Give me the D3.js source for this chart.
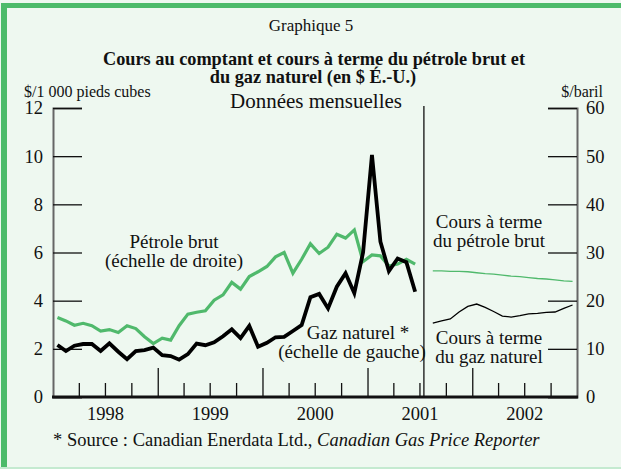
<!DOCTYPE html>
<html><head><meta charset="utf-8">
<script src="https://cdn.jsdelivr.net/npm/d3@7"></script>
<style>body{margin:0;background:#eef8f0;}</style>
</head><body><svg id="c" width="621" height="469"></svg>
<script>
// ---- data ----
const spotStart = [1998, 0];      // January 1998
const futuresStart = [2001, 7];   // August 2001
const gasSpot = [2.16,1.91,2.13,2.20,2.20,1.91,2.23,1.88,1.57,1.91,1.95,2.05,
                 1.74,1.70,1.55,1.78,2.22,2.15,2.27,2.52,2.81,2.45,2.95,2.09,
                 2.25,2.48,2.50,2.74,2.99,4.14,4.28,3.68,4.58,5.14,4.31,6.00,
                 10.05,6.45,5.23,5.75,5.60,4.37];
const oilSpot = [16.5,15.8,14.9,15.3,14.8,13.7,14.0,13.4,14.8,14.2,12.5,11.1,
                 12.2,11.8,14.8,17.2,17.6,17.9,20.1,21.2,23.8,22.4,25.0,26.0,
                 27.1,29.1,30.0,25.7,28.6,31.8,29.8,31.1,33.8,33.0,34.7,28.1,
                 29.5,29.3,27.2,27.6,28.6,27.6];
const gasFutures = [3.07,3.16,3.24,3.53,3.76,3.86,3.72,3.55,3.36,3.32,3.38,3.45,3.47,3.51,3.53,3.68,3.82];
const oilFutures = [26.2,26.2,26.1,26.1,26.0,25.8,25.6,25.5,25.3,25.1,25.0,24.8,24.6,24.5,24.3,24.1,24.0];
const leftTicks = [0,2,4,6,8,10,12];
const rightTicks = [0,10,20,30,40,50,60];
const yearLabels = ["1998","1999","2000","2001","2002"];

// ---- layout ----
const FONT = "'Liberation Serif', Tinos, 'Times New Roman', Times, 'DejaVu Serif', serif";
const svg = d3.select("#c");
const W = 621, H = 469;
const L = 53, R = 577, T = 108, B = 397;
const green = "#50b96c";

svg.append("rect").attr("width",W).attr("height",H).attr("fill","#eef8f0");
// frame
svg.append("rect").attr("x",1).attr("y",3).attr("width",6).attr("height",H-3).attr("fill","#4cbb6a");
svg.append("rect").attr("x",1).attr("y",3).attr("width",W-1).attr("height",5).attr("fill","#4cbb6a");
svg.append("rect").attr("x",0).attr("y",H-2).attr("width",W).attr("height",2).attr("fill","#c4ead0");

const x = d3.scaleTime().domain([new Date(1998,0,1), new Date(2003,0,1)]).range([L,R]);
const yL = d3.scaleLinear().domain([0,12]).range([B,T]);
const yR = d3.scaleLinear().domain([0,60]).range([B,T]);
const midMonth = (y,m,i) => { const a = new Date(y,m+i,1), b = new Date(y,m+i+1,1); return (x(a)+x(b))/2; };

// titles
const txt = (s, xx, yy, size, anchor, weight) => svg.append("text").attr("x",xx).attr("y",yy)
  .style("font-family",FONT)
  .attr("font-size",size).attr("text-anchor",anchor||"middle").attr("font-weight",weight||"normal").attr("fill","#111").text(s);
txt("Graphique 5", 311, 31, 17);
txt("Cours au comptant et cours à terme du pétrole brut et", 314, 65, 18.3, "middle", "bold");
txt("du gaz naturel (en $ É.-U.)", 313, 83, 18.3, "middle", "bold");
txt("Données mensuelles", 316, 108, 21);
txt("$/1 000 pieds cubes", 24, 97, 16, "start");
txt("$/baril", 603, 97, 16, "end");

// axes
const axL = svg.append("g").attr("transform",`translate(${L},0)`)
  .call(d3.axisLeft(yL).tickValues(leftTicks).tickSize(-29).tickPadding(10).tickFormat(d3.format("d")));
const axR = svg.append("g").attr("transform",`translate(${R},0)`)
  .call(d3.axisRight(yR).tickValues(rightTicks).tickSize(-29).tickPadding(9).tickFormat(d3.format("d")));
[axL, axR].forEach(g => {
  g.select(".domain").attr("stroke","#666").attr("stroke-width",2);
  g.selectAll(".tick line").attr("stroke","#111").attr("stroke-width",1.3);
  g.selectAll(".tick text").attr("font-size",18.5).attr("fill","#111").style("font-family",FONT);
});

const quarters = d3.timeMonth.range(new Date(1998,3,1), new Date(2003,0,1), 3).filter(d => d.getMonth() !== 0);
const years = d3.timeYear.range(new Date(1999,0,1), new Date(2003,0,1));
const axQ = svg.append("g").attr("transform",`translate(0,${B})`)
  .call(d3.axisBottom(x).tickValues(quarters).tickSize(-14).tickFormat(""));
const axY = svg.append("g").attr("transform",`translate(0,${B})`)
  .call(d3.axisBottom(x).tickValues(years).tickSize(-29).tickFormat(""));
[axQ, axY].forEach(g => { g.select(".domain").remove(); g.selectAll(".tick line").attr("stroke","#111").attr("stroke-width",1.3); });
const yearMid = yearLabels.map(s => new Date(+s,6,1));
const axLab = svg.append("g").attr("transform",`translate(0,${B})`)
  .call(d3.axisBottom(x).tickValues(yearMid).tickSize(0).tickPadding(10).tickFormat((d,i)=>yearLabels[i]));
axLab.select(".domain").remove();
axLab.selectAll(".tick text").attr("font-size",18.5).attr("fill","#111").style("font-family",FONT);
svg.append("line").attr("x1",L-1).attr("x2",R+1).attr("y1",B).attr("y2",B).attr("stroke","#111").attr("stroke-width",3);

// separator between spot and futures
const sep = (x(new Date(2001,6,1)) + x(new Date(2001,7,1)))/2;
svg.append("line").attr("x1",sep).attr("x2",sep).attr("y1",T-2).attr("y2",B).attr("stroke","#111").attr("stroke-width",1.3);

// lines
const drawLine = (vals, start, yS, color, w) => {
  const line = d3.line().x((d,i)=>midMonth(start[0],start[1],i)).y(d=>yS(d));
  svg.append("path").datum(vals).attr("d",line).attr("fill","none").attr("stroke",color)
    .attr("stroke-width",w).attr("stroke-linejoin","miter").attr("stroke-miterlimit",10);
};
drawLine(oilSpot, spotStart, yR, green, 3.2);
drawLine(gasSpot, spotStart, yL, "#000", 3.8);
drawLine(oilFutures, futuresStart, yR, green, 1.3);
drawLine(gasFutures, futuresStart, yL, "#000", 1.3);

// annotations
txt("Pétrole brut", 174, 248, 19);
txt("(échelle de droite)", 174, 267, 19);
txt("Gaz naturel *", 358, 339, 19);
txt("(échelle de gauche)", 352, 358, 19);
txt("Cours à terme", 489, 228, 19);
txt("du pétrole brut", 489, 247, 19);
txt("Cours à terme", 489, 344, 19);
txt("du gaz naturel", 489, 363, 19);

// footnote
const fn = svg.append("text").attr("x",53).attr("y",446).attr("font-size",18.5).attr("fill","#111").style("font-family",FONT);
fn.append("tspan").text("* Source : Canadian Enerdata Ltd., ");
fn.append("tspan").attr("font-style","italic").text("Canadian Gas Price Reporter");
</script></body></html>
